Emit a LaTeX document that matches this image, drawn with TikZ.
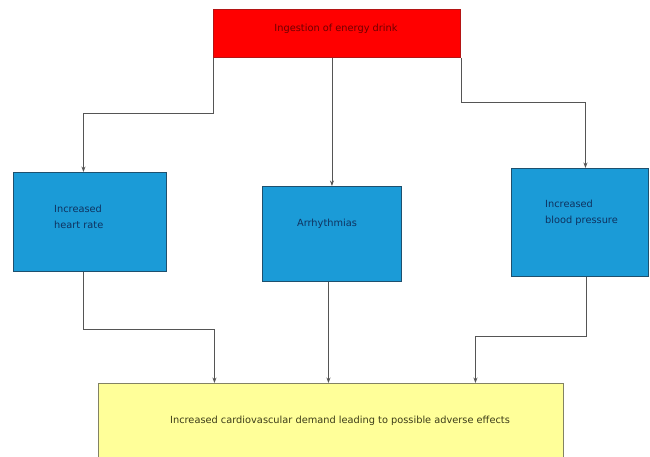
\documentclass[tikz,border=0pt]{standalone}
\usepackage{fontspec}
\setmainfont{DejaVu Sans}
\usetikzlibrary{arrows.meta}
\definecolor{boxred}{RGB}{255,0,0}
\definecolor{redline}{RGB}{180,20,20}
\definecolor{redtext}{RGB}{110,0,0}
\definecolor{boxblue}{RGB}{27,155,215}
\definecolor{blueline}{RGB}{30,80,110}
\definecolor{bluetext}{RGB}{15,50,95}
\definecolor{boxyellow}{RGB}{255,255,153}
\definecolor{yellowline}{RGB}{130,130,100}
\definecolor{yellowtext}{RGB}{60,60,25}
\definecolor{connline}{RGB}{85,85,85}
\tikzset{
  basebox/.style={rectangle, anchor=north west, inner sep=0pt, line width=0.9pt},
  redbox/.style={basebox, draw=redline, fill=boxred},
  bluebox/.style={basebox, draw=blueline, fill=boxblue},
  yellowbox/.style={basebox, draw=yellowline, fill=boxyellow},
  boxtext/.style={inner sep=0pt, font=\fontsize{9.8}{16}\selectfont, align=left},
  conn/.style={draw=connline, line width=0.8pt, -{Stealth[length=5.5pt,width=4pt]}}
}
\begin{document}
\begin{tikzpicture}[x=1pt,y=-1pt]
\useasboundingbox (0,0) rectangle (650,456);
\clip (0,0) rectangle (650,456);
% boxes
\node[redbox, minimum width=247pt, minimum height=48pt] (ing) at (213,9) {};
\node[bluebox, minimum width=153pt, minimum height=99pt] (hr) at (13,172) {};
\node[bluebox, minimum width=139pt, minimum height=95pt] (arr) at (262,186) {};
\node[bluebox, minimum width=137pt, minimum height=108pt] (bp) at (511,168) {};
\node[yellowbox, minimum width=465pt, minimum height=100pt] (ye) at (98,383) {};
% texts
\node[boxtext, text=redtext] (ingt) at (336,29) {Ingestion of energy drink};
\node[boxtext, text=bluetext, anchor=west] (hrt) at (54,217) {Increased\\heart rate};
\node[boxtext, text=bluetext] (arrt) at (327,224) {Arrhythmias};
\node[boxtext, text=bluetext, anchor=west] (bpt) at (545,213) {Increased\\blood pressure};
\node[boxtext, text=yellowtext] (yet) at (340,421) {Increased cardiovascular demand leading to possible adverse effects};
% connectors
\draw[conn] (ing.south west) -- ++(0,55) -| ([xshift=-6.5pt]hr.north);
\draw[conn] (arr.north |- ing.south) -- (arr.north);
\draw[conn] (ing.south east) -- ++(0,44) -| ([xshift=5.5pt]bp.north);
\draw[conn] ([xshift=-6.5pt]hr.south) -- ++(0,57) -| ([xshift=-116.5pt]ye.north);
\draw[conn] ([xshift=-3.5pt]arr.south) -- ([xshift=-3.5pt]arr.south |- ye.north);
\draw[conn] ([xshift=6.5pt]bp.south) -- ++(0,59) -| ([xshift=144.5pt]ye.north);
\end{tikzpicture}
\end{document}
